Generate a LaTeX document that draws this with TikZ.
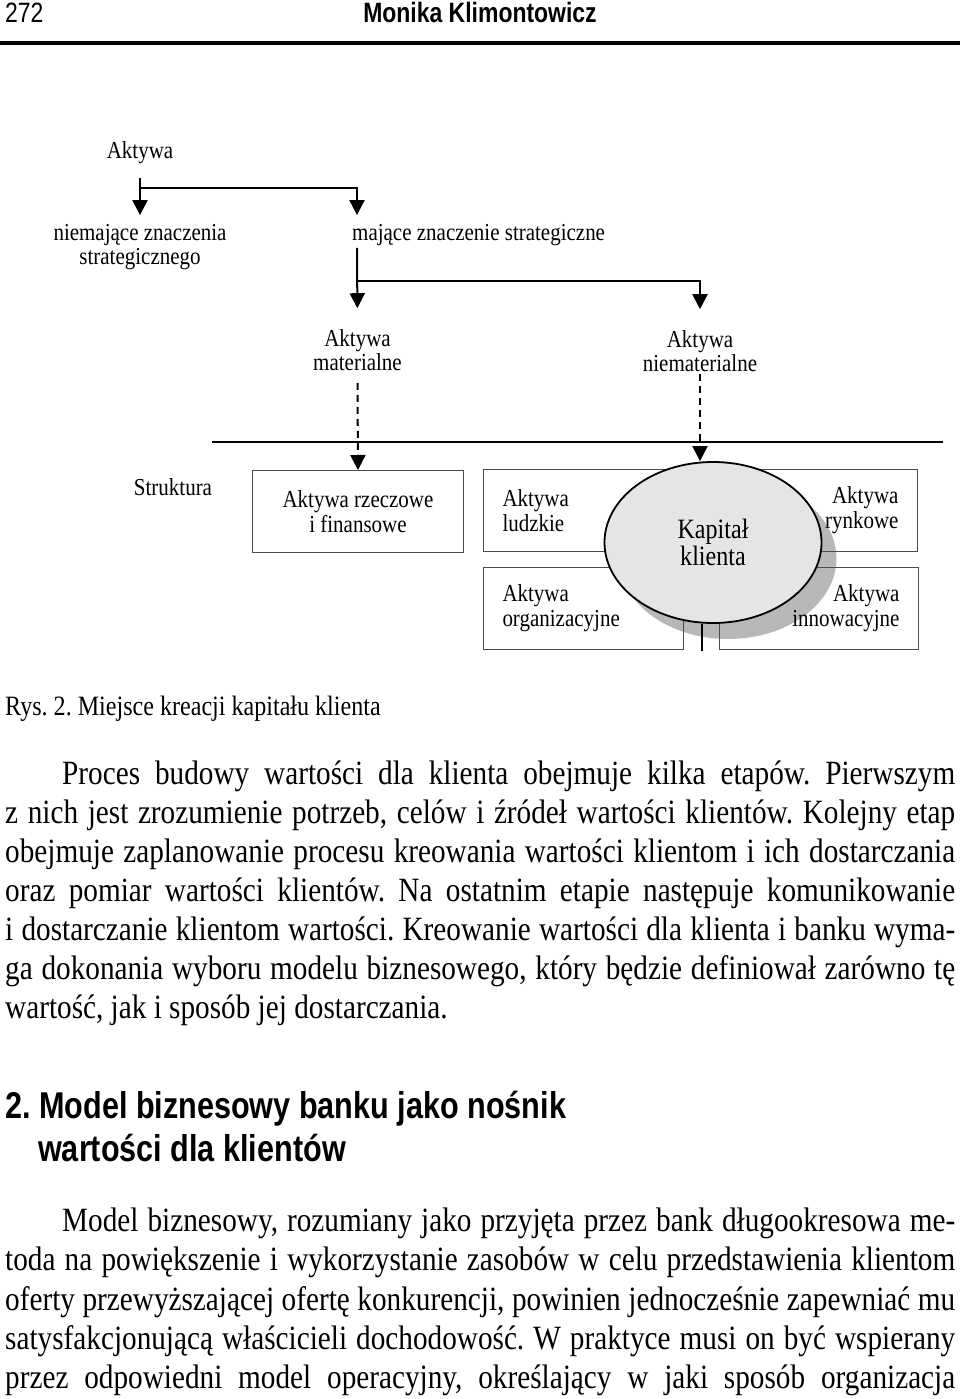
\documentclass[tikz,border=0pt]{standalone}
\usepackage{fontspec}
\setmainfont[FakeStretch=0.86]{Liberation Serif}
\newfontfamily\narrowfont[FakeStretch=0.82]{Liberation Sans}
\frenchspacing
\usetikzlibrary{arrows.meta,shapes.geometric,positioning,calc}
\tikzset{
    lbl/.style={
        inner sep=0pt,
        font=\fontsize{24.4}{24}\selectfont
    },
    box/.style={
        draw=black!70,
        line width=1pt,
        minimum height=82pt,
        inner xsep=19pt,
        inner ysep=0pt,
        font=\fontsize{24.4}{25}\selectfont
    },
    conn/.style={
        line width=2pt
    },
    arr/.style={
        conn,
        -{Triangle[length=15pt,width=15pt]}
    },
    dasharr/.style={
        arr,
        dash pattern=on 7pt off 5pt
    },
    bodyline/.style={
        anchor=base west,
        inner sep=0pt,
        font=\fontsize{34}{39}\selectfont
    },
    headline/.style={
        anchor=base west,
        inner sep=0pt,
        font=\narrowfont\bfseries\fontsize{37.3}{43}\selectfont
    },
}

\begin{document}
\begin{tikzpicture}[x=1pt,y=-1pt]
    \useasboundingbox (0,0) rectangle (960,1399);

    % running head
    \node[inner sep=0pt, anchor=base west, font=\narrowfont\fontsize{28}{30}\selectfont] (pnum) at (5,23) {272};
    \node[inner sep=0pt, anchor=base, font=\narrowfont\bfseries\fontsize{28}{30}\selectfont] (author) at (480,23) {Monika Klimontowicz};
    \draw[line width=4pt] (0,43) -- (960,43);

    % diagram
    \node[lbl] (akt) at (140,153) {Aktywa};
    \node[lbl, align=center] (niem) at (140,247) {niemające znaczenia\\strategicznego};
    \node[lbl, anchor=west] (maj) at (352,235) {mające znaczenie strategiczne};
    \node[lbl, align=center] (mat) at (357.5,350) {Aktywa\\materialne};
    \node[lbl, align=center] (niemat) at (700,351) {Aktywa\\niematerialne};
    \node[lbl] (strukt) at (173,487) {Struktura};

    \node[ellipse, fill=black!28, minimum width=217pt, minimum height=161pt] (kapcien) at (728,558.5) {};

    \node[box, anchor=north west, minimum width=211pt, align=center] (rzecz) at (252,470) {Aktywa rzeczowe\\i finansowe};
    \node[box, anchor=north west, text width=162pt, align=left] (ludz) at (483,469) {Aktywa\\ludzkie};
    \node[box, anchor=north east, text width=160pt, align=right] (rynk) at (918,469) {Aktywa\\rynkowe};
    \node[box, anchor=north west, text width=162pt, align=left] (org) at (483,567) {Aktywa\\organizacyjne};
    \node[box, anchor=north east, text width=161pt, align=right] (innow) at (919,567) {Aktywa\\innowacyjne};

    \node[ellipse, draw, line width=1.8pt, fill=black!10, minimum width=217pt, minimum height=161pt,
          inner sep=0pt, align=center, font=\fontsize{28}{27}\selectfont] (kap) at (713,542.5) {Kapitał\\klienta};

    \draw[arr, shorten >=9pt] (akt.south) ++(0,14) -- (niem.north);
    \draw[arr] (akt.south) ++(0,24) -| ([xshift=5pt,yshift=9pt]maj.north west);
    \draw[arr, shorten >=21pt] (maj.south west) ++(5,2) -- (mat.north);
    \draw[arr, shorten >=21pt] (maj.south west) ++(5,35) -| (niemat.north);
    \draw[conn, line width=2.5pt] (strukt.north east |- 0,442) -- (943,442);
    \draw[dasharr] (mat.south) ++(0,12) -- (rzecz.north);
    \draw[dasharr] (niemat.south) ++(0,2) -- (kap.north -| niemat);
    \draw[conn] ([xshift=-11pt]kap.south) -- ++(0,27);

    % caption
    \node[inner sep=0pt, anchor=base west, font=\fontsize{28}{30}\selectfont] (rys) at (5,715) {Rys. 2. Miejsce kreacji kapitału klienta};

    % first paragraph
    \node[bodyline] (p1a) at (62,784) {\makebox[893pt][s]{Proces budowy wartości dla klienta obejmuje kilka etapów. Pierwszym}};
    \node[bodyline] (p1b) at (5,823) {\makebox[950pt][s]{z nich jest zrozumienie potrzeb, celów i źródeł wartości klientów. Kolejny etap}};
    \node[bodyline] (p1c) at (5,862) {\makebox[950pt][s]{obejmuje zaplanowanie procesu kreowania wartości klientom i ich dostarczania}};
    \node[bodyline] (p1d) at (5,901) {\makebox[950pt][s]{oraz pomiar wartości klientów. Na ostatnim etapie następuje komunikowanie}};
    \node[bodyline] (p1e) at (5,940) {\makebox[950pt][s]{i dostarczanie klientom wartości. Kreowanie wartości dla klienta i banku wyma-}};
    \node[bodyline] (p1f) at (5,979) {\makebox[950pt][s]{ga dokonania wyboru modelu biznesowego, który będzie definiował zarówno tę}};
    \node[bodyline] (p1g) at (5,1018) {wartość, jak i sposób jej dostarczania.};

    % section heading
    \node[headline] (sec1) at (5,1118) {2. Model biznesowy banku jako nośnik};
    \node[headline] (sec2) at (38,1161) {wartości dla klientów};

    % second paragraph
    \node[bodyline] (p2a) at (62,1231) {\makebox[893pt][s]{Model biznesowy, rozumiany jako przyjęta przez bank długookresowa me-}};
    \node[bodyline] (p2b) at (5,1270) {\makebox[950pt][s]{toda na powiększenie i wykorzystanie zasobów w celu przedstawienia klientom}};
    \node[bodyline] (p2c) at (5,1310) {\makebox[950pt][s]{oferty przewyższającej ofertę konkurencji, powinien jednocześnie zapewniać mu}};
    \node[bodyline] (p2d) at (5,1349) {\makebox[950pt][s]{satysfakcjonującą właścicieli dochodowość. W praktyce musi on być wspierany}};
    \node[bodyline] (p2e) at (5,1388) {\makebox[950pt][s]{przez odpowiedni model operacyjny, określający w jaki sposób organizacja}};
\end{tikzpicture}
\end{document}
